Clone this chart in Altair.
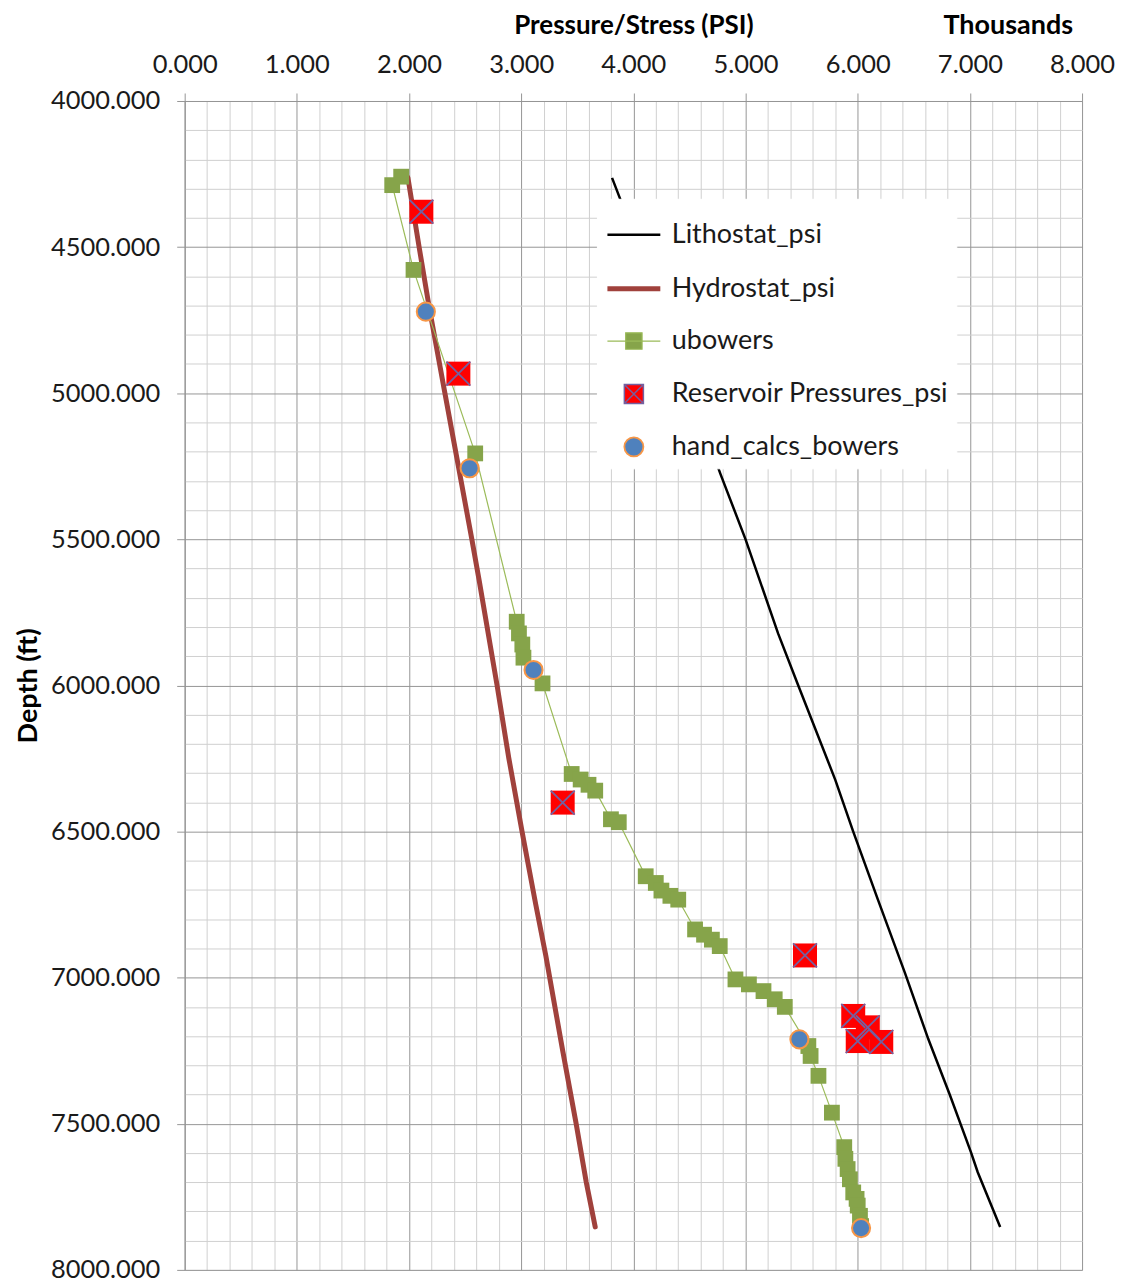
import altair as alt
import pandas as pd

# ---------------- data (psi in thousands, depth in ft) ----------------
series_names = ["Lithostat_psi", "Hydrostat_psi", "ubowers",
                "Reservoir Pressures_psi", "hand_calcs_bowers"]

litho_depth = [4263, 4383, 5275, 5500, 5822, 6000, 6323, 6500, 6733, 6983,
               7211, 7400, 7598, 7666, 7853]
litho_psi = [3.81, 3.93, 4.775, 5.00, 5.29, 5.47, 5.80, 5.96, 6.18, 6.42,
             6.63, 6.82, 7.01, 7.07, 7.27]

hydro_depth = [4262, 4500, 4706, 5000, 5250, 5500, 5640, 6000, 6250, 6505,
               6750, 6926, 7250, 7500, 7700, 7853]
hydro_psi = [1.99, 2.09, 2.18, 2.32, 2.44, 2.56, 2.625, 2.785, 2.89, 3.01,
             3.13, 3.22, 3.37, 3.49, 3.58, 3.66]

ub_depth = [4259, 4288, 4578, 5206, 5782, 5822, 5860, 5905, 5993, 6303,
            6322, 6340, 6360, 6458, 6468, 6653, 6676, 6702, 6720, 6733,
            6835, 6853, 6870, 6892, 7006, 7023, 7046, 7074, 7100, 7234,
            7268, 7336, 7462, 7580, 7620, 7655, 7690, 7735, 7757, 7780,
            7815, 7850]
ub_psi = [1.93, 1.85, 2.04, 2.59, 2.96, 2.98, 3.01, 3.02, 3.19, 3.45,
          3.53, 3.60, 3.66, 3.80, 3.87, 4.11, 4.20, 4.25, 4.33, 4.40,
          4.55, 4.63, 4.70, 4.77, 4.91, 5.03, 5.16, 5.26, 5.35, 5.56,
          5.58, 5.65, 5.77, 5.88, 5.89, 5.91, 5.93, 5.96, 5.99, 6.00,
          6.02, 6.03]

res_depth = [4379, 4933, 6401, 6924, 7131, 7170, 7217, 7220]
res_psi = [2.11, 2.44, 3.37, 5.53, 5.96, 6.09, 6.00, 6.21]

hand_depth = [4721, 5257, 5947, 7211, 7857]
hand_psi = [2.15, 2.54, 3.11, 5.48, 6.03]

x_ticks = [round(i * 0.2, 1) for i in range(41)]
y_ticks = [4000 + 100 * i for i in range(41)]


def frame(name, psi, depth):
    return pd.DataFrame({"series": name, "psi": psi, "depth": depth})


df_litho = frame(series_names[0], litho_psi, litho_depth)
df_hydro = frame(series_names[1], hydro_psi, hydro_depth)
df_ub = frame(series_names[2], ub_psi, ub_depth)
df_res = frame(series_names[3], res_psi, res_depth)
df_hand = frame(series_names[4], hand_psi, hand_depth)
df_all = pd.concat([df_litho, df_hydro, df_ub, df_res, df_hand], ignore_index=True)

# ---------------- styling ----------------
FONT = "Lato"
MAJOR = "#969696"
MINOR = "#d0d0d0"
X_MAJOR_TEST = "abs(datum.value - round(datum.value)) < 1e-6"
Y_MAJOR_TEST = "datum.value % 500 === 0"

x_axis = alt.Axis(
    orient="top", values=x_ticks, title="Pressure/Stress (PSI)",
    labelExpr=X_MAJOR_TEST + " ? format(datum.value, '.3f') : ''",
    labelOverlap=False, labelFlush=False,
    gridColor={"condition": {"test": X_MAJOR_TEST, "value": MAJOR}, "value": MINOR},
    tickOpacity={"condition": {"test": X_MAJOR_TEST, "value": 1}, "value": 0},
    tickSize=8, tickColor=MAJOR, domainColor=MAJOR,
    labelFont=FONT, labelFontSize=25.5, labelColor="#1a1a1a", labelPadding=16,
    titleFont=FONT, titleFontSize=26, titleFontWeight="bold", titleColor="#000",
    titlePadding=14,
)
y_axis = alt.Axis(
    values=y_ticks, title="Depth (ft)",
    labelExpr=Y_MAJOR_TEST + " ? format(datum.value, '.3f') : ''",
    labelOverlap=False, labelFlush=False,
    gridColor={"condition": {"test": Y_MAJOR_TEST, "value": MAJOR}, "value": MINOR},
    tickOpacity={"condition": {"test": Y_MAJOR_TEST, "value": 1}, "value": 0},
    tickSize=8, tickColor=MAJOR, domainColor=MAJOR,
    labelFont=FONT, labelFontSize=25.5, labelColor="#1a1a1a", labelPadding=17,
    titleFont=FONT, titleFontSize=27, titleFontWeight="bold", titleColor="#000",
    titlePadding=8,
)

x_enc = alt.X("psi:Q", scale=alt.Scale(domain=[0, 8], nice=False, zero=False), axis=x_axis)
y_enc = alt.Y("depth:Q", scale=alt.Scale(domain=[4000, 8000], reverse=True, nice=False, zero=False), axis=y_axis)
order_enc = alt.Order("depth:Q")

litho = alt.Chart(df_litho).mark_line(color="#000000", strokeWidth=2.5).encode(x=x_enc, y=y_enc, order=order_enc)
hydro = alt.Chart(df_hydro).mark_line(color="#A0413C", strokeWidth=5, strokeCap="round").encode(
    x=x_enc, y=y_enc, order=order_enc)
ub_line = alt.Chart(df_ub).mark_line(color="#9BBB59", strokeWidth=1.2).encode(x=x_enc, y=y_enc, order=order_enc)
ub_pts = alt.Chart(df_ub).mark_square(size=250, color="#86A44A", opacity=1).encode(x=x_enc, y=y_enc)
res_sq = alt.Chart(df_res).mark_square(size=576, color="#FF0000", opacity=1).encode(x=x_enc, y=y_enc)
res_x = alt.Chart(df_res).mark_point(
    shape="M-1,-1L1,1M1,-1L-1,1", size=576, filled=False, stroke="#7460A0",
    strokeWidth=1.8, opacity=1).encode(x=x_enc, y=y_enc)
hand = alt.Chart(df_hand).mark_circle(
    size=330, color="#4F81BD", stroke="#F79646", strokeWidth=2, opacity=1).encode(x=x_enc, y=y_enc)

# ---------------- legend (built from scales, no marks drawn) ----------------
legend_def = alt.Legend(
    title=None, orient="none", legendX=413, legendY=98,
    fillColor="white", strokeColor="white", padding=8,
    symbolSize=2809, labelFont=FONT, labelFontSize=27, labelColor="#1a1a1a",
    labelLimit=500, labelOffset=9, rowPadding=12,
)
shape_range = [
    "stroke", "stroke",
    "M-1,0H1M-0.31,-0.31H0.31V0.31H-0.31Z",
    "M-0.36,-0.36H0.36V0.36H-0.36ZM-0.36,-0.36L0.36,0.36M0.36,-0.36L-0.36,0.36",
    "M0.36,0A0.36,0.36,0,1,1,-0.36,0A0.36,0.36,0,1,1,0.36,0Z",
]
fill_range = ["transparent", "transparent", "#86A44A", "#FF0000", "#4F81BD"]
stroke_range = ["#000000", "#A0413C", "#9BBB59", "#7460A0", "#F79646"]
width_range = [2.5, 5, 1.2, 1.5, 1.8]

legend_layer = alt.Chart(df_all).mark_point(filled=True, opacity=1).encode(
    x=x_enc, y=y_enc,
    fill=alt.Fill("series:N", scale=alt.Scale(domain=series_names, range=fill_range), legend=legend_def),
    stroke=alt.Stroke("series:N", scale=alt.Scale(domain=series_names, range=stroke_range), legend=legend_def),
    shape=alt.Shape("series:N", scale=alt.Scale(domain=series_names, range=shape_range), legend=legend_def),
    strokeWidth=alt.StrokeWidth("series:N", scale=alt.Scale(type="ordinal", domain=series_names, range=width_range),
                                legend=legend_def),
).transform_filter("false")

chart = alt.layer(
    litho, hydro, ub_line, ub_pts, res_sq, res_x, hand, legend_layer
).properties(
    width=899, height=1171,
    title=alt.TitleParams("Thousands", anchor="end", frame="group", font=FONT, fontSize=27,
                          fontWeight="bold", color="#000", offset=-28, dx=-9),
    padding={"left": 6, "top": 3, "right": 2, "bottom": 2},
).configure_view(strokeWidth=0).configure(background="white")

chart.save("out.html", embed_options={"renderer": "svg", "actions": False})
